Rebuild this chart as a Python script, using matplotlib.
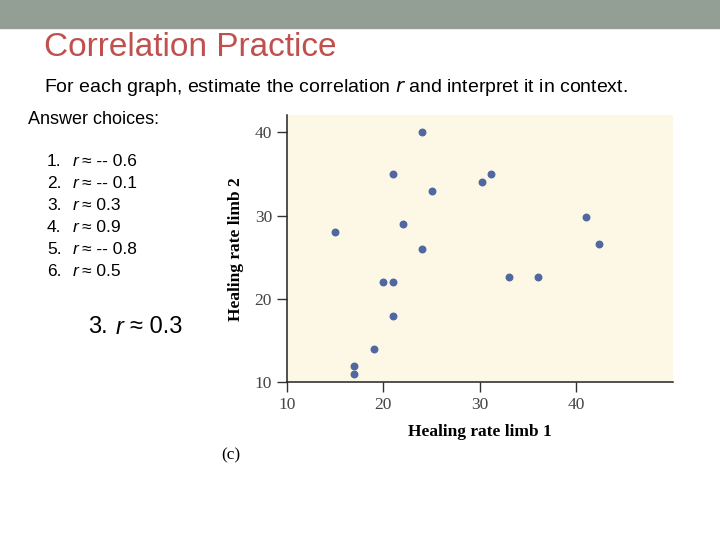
import matplotlib
matplotlib.use('Agg')
import matplotlib.pyplot as plt
from matplotlib.patches import Rectangle

# scatter data
limb1 = [15, 17, 17, 19, 20, 21, 21, 21, 22, 24, 24, 25, 30.2, 31.2, 33, 36, 41, 42.3]
limb2 = [28, 12, 11, 14, 22, 22, 18, 35, 29, 40, 26, 33, 34, 35, 22.6, 22.6, 29.8, 26.6]

xticks = [10, 20, 30, 40]
yticks = [10, 20, 30, 40]

choice_nums = ["1.", "2.", "3.", "4.", "5.", "6."]
choice_vals = ["-- 0.6", "-- 0.1", "0.3", "0.9", "-- 0.8", "0.5"]

sans = 'Liberation Sans'
serif = 'Liberation Serif'

fig = plt.figure(figsize=(7.2, 5.4), dpi=100)

# grey band at the top of the slide
fig.patches.append(Rectangle((0, 1 - 28 / 540), 1, 28 / 540, transform=fig.transFigure,
                             color='#939f95', zorder=0))

fig.text(44 / 720, 1 - 47 / 540, "Correlation Practice", fontsize=24, family=sans,
         color='#c0504d', va='center', ha='left')
fig.text(44 / 720, 1 - 87 / 540,
         "For each graph, estimate the correlation $\\it{r}$ and interpret it in context.",
         fontsize=14, family=sans, va='center', ha='left')
fig.text(28 / 720, 1 - 120 / 540, "Answer choices:", fontsize=13, family=sans,
         va='center', ha='left')

for i, (n, v) in enumerate(zip(choice_nums, choice_vals)):
    y = 1 - (162 + i * 21.8) / 540
    fig.text(47 / 720, y, n, fontsize=12.5, family=sans, va='center', ha='left')
    fig.text(73 / 720, y, "r", fontsize=12.5, family=sans, style='italic', va='center', ha='left')
    fig.text(82 / 720, y, "\u2248 " + v, fontsize=12.5, family=sans, va='center', ha='left')

fig.text(88 / 720, 1 - 327 / 540, "3.", fontsize=17, family=sans, va='center', ha='left')
fig.text(116 / 720, 1 - 327 / 540, "r", fontsize=17, family=sans, style='italic',
         va='center', ha='left')
fig.text(130 / 720, 1 - 327 / 540, "\u2248 0.3", fontsize=17, family=sans, va='center', ha='left')

# scatter plot
ax = fig.add_axes([286.7 / 720, 1 - 382.3 / 540, (673 - 286.7) / 720, (382.3 - 115) / 540])
ax.set_facecolor('#fdf7e6')
ax.scatter(limb1, limb2, s=22, color='#5067a0', zorder=3)
ax.set_xlim(10, 50)
ax.set_ylim(10, 42.1)
ax.set_xticks(xticks)
ax.set_yticks(yticks)
ax.spines['top'].set_visible(False)
ax.spines['right'].set_visible(False)
for s in ['left', 'bottom']:
    ax.spines[s].set_linewidth(1.1)
    ax.spines[s].set_color('#222222')
ax.tick_params(direction='out', length=7, width=1, color='#333333',
               labelcolor='#444444', labelsize=12.5)
for lab in ax.get_xticklabels() + ax.get_yticklabels():
    lab.set_family(serif)
ax.set_xlabel("Healing rate limb 1", family=serif, fontweight='bold', fontsize=12.5,
              labelpad=8)
ax.set_ylabel("Healing rate limb 2", family=serif, fontweight='bold', fontsize=12.5,
              labelpad=8)

fig.text(231 / 720, 1 - 455 / 540, "(c)", family=serif, fontsize=12.5, va='center', ha='center')

plt.savefig("out.png", dpi=100)
plt.close()
